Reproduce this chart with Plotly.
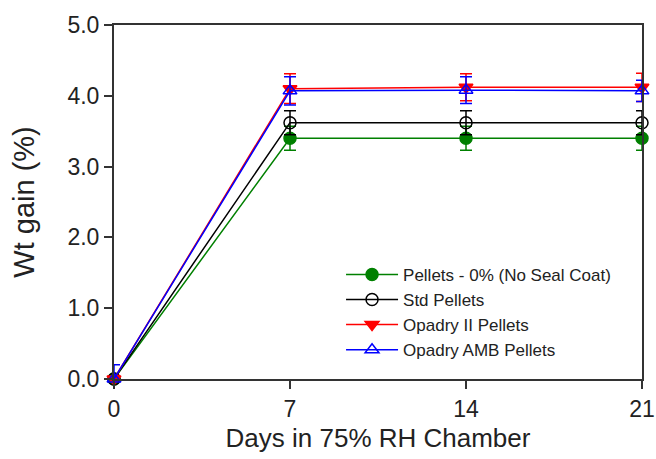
import plotly.graph_objects as go

days = [0, 7, 14, 21]
series_names = ["Pellets - 0% (No Seal Coat)", "Std Pellets", "Opadry II Pellets", "Opadry AMB Pellets"]
green_vals = [0.0, 3.40, 3.40, 3.40]
green_err = [0.03, 0.17, 0.17, 0.17]
black_vals = [0.0, 3.62, 3.62, 3.62]
black_err = [0.03, 0.17, 0.17, 0.17]
red_vals = [0.0, 4.10, 4.12, 4.12]
red_err = [0.05, 0.21, 0.19, 0.20]
blue_vals = [0.0, 4.07, 4.08, 4.07]
blue_err = [0.20, 0.20, 0.19, 0.15]
y_ticks = [0, 1, 2, 3, 4, 5]
y_ticklabels = ["0.0", "1.0", "2.0", "3.0", "4.0", "5.0"]
x_ticks = [0, 7, 14, 21]

styles = [
    ("#008000", "circle", green_vals, green_err),
    ("#000000", "circle-open", black_vals, black_err),
    ("#ff0000", "triangle-down", red_vals, red_err),
    ("#0000ff", "triangle-up-open", blue_vals, blue_err),
]

fig = go.Figure()
for name, (col, sym, vals, err) in zip(series_names, styles):
    fig.add_trace(go.Scatter(
        x=days, y=vals, name=name, mode="lines+markers",
        line=dict(color=col, width=1.5),
        marker=dict(symbol=sym, size=12, color=col, line=dict(color=col, width=1.5)),
        error_y=dict(type="data", array=err, visible=True, color=col, thickness=1.5, width=6),
        cliponaxis=False,
    ))

fam = "Liberation Sans, Arial, sans-serif"
axis_font = dict(family=fam, size=23, color="#222")
fig.update_layout(
    width=656, height=459,
    margin=dict(l=114, r=14, t=25, b=80),
    paper_bgcolor="white", plot_bgcolor="white",
    font=dict(family=fam, color="#222"),
    showlegend=True,
    legend=dict(x=0.43, y=0.345, xanchor="left", yanchor="top",
                font=dict(size=17, color="#222"), bgcolor="rgba(0,0,0,0)",
                tracegroupgap=0, itemwidth=52),
    xaxis=dict(range=[0, 21], tickvals=x_ticks, showgrid=False, zeroline=False,
               showline=True, linecolor="#333", linewidth=2, mirror=True,
               ticks="outside", ticklen=8, tickwidth=2, tickcolor="#333",
               tickfont=axis_font, automargin=False,
               title=dict(text="Days in 75% RH Chamber", font=dict(size=26, color="#222"), standoff=8)),
    yaxis=dict(range=[0, 5], tickvals=y_ticks, ticktext=y_ticklabels, showgrid=False, zeroline=False,
               showline=True, linecolor="#333", linewidth=2, mirror=True,
               ticks="outside", ticklen=8, tickwidth=2, tickcolor="#333",
               tickfont=axis_font, automargin=False,
               title=dict(text="Wt gain (%)", font=dict(size=29, color="#222"), standoff=24)),
)
fig.write_html("out.html")
